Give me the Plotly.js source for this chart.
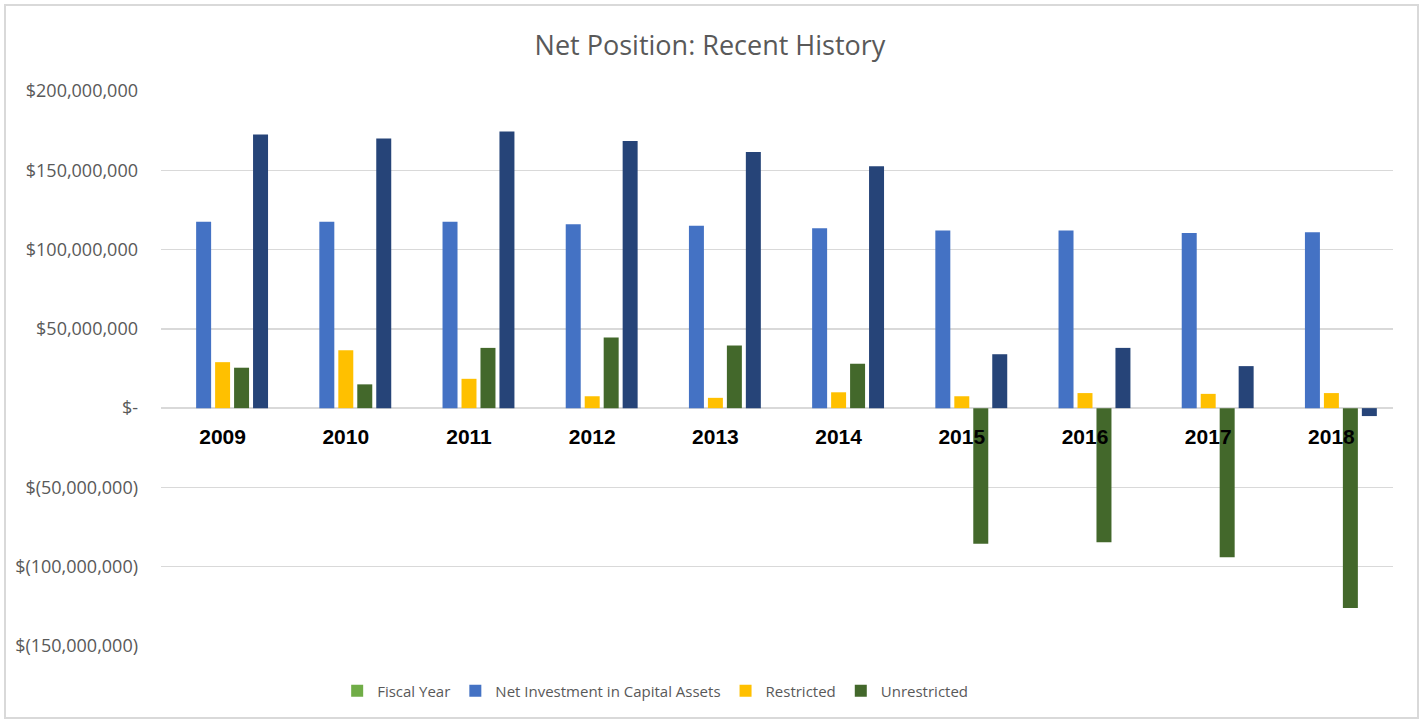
<!DOCTYPE html>
<html>
<head>
<meta charset="utf-8">
<script src="https://cdn.plot.ly/plotly-3.0.1.min.js"></script>
<style>
  html, body { margin: 0; padding: 0; background: #fff; }
  #wrap { position: relative; width: 1420px; height: 721px; }
  #chart { width: 1420px; height: 721px; }
  #frame { position: absolute; left: 4px; top: 4px; width: 1411px; height: 711px;
           border: 2px solid #d9d9d9; pointer-events: none; }
</style>
</head>
<body>
<div id="wrap">
  <div id="chart"></div>
  <div id="frame"></div>
</div>
<script>
// fiscal years (categories)
var years = ["2009", "2010", "2011", "2012", "2013", "2014", "2015", "2016", "2017", "2018"];

// series values (dollars)
var fiscalYear = [2009, 2010, 2011, 2012, 2013, 2014, 2015, 2016, 2017, 2018];
var netInvestment = [117.5e6, 117.5e6, 117.5e6, 116e6, 115e6, 113.5e6, 112e6, 112e6, 110.5e6, 111e6];
var restricted = [29e6, 36.5e6, 18.5e6, 7.5e6, 6.5e6, 10e6, 7.5e6, 9.5e6, 9e6, 9.5e6];
var unrestricted = [25.5e6, 15e6, 38e6, 44.5e6, 39.5e6, 28e6, -85.5e6, -84.5e6, -94e6, -126e6];
var total = [172.5e6, 170e6, 174.5e6, 168.5e6, 161.5e6, 152.5e6, 34e6, 38e6, 26.5e6, -5e6];

// y axis ticks
var yTickVals = [200e6, 150e6, 100e6, 50e6, 0, -50e6, -100e6, -150e6];
var yTickText = ["$200,000,000", "$150,000,000", "$100,000,000", "$50,000,000", "$-",
                 "$(50,000,000)", "$(100,000,000)", "$(150,000,000)"];

var grey = "#595959";

function bars(name, y, color, show) {
  return {
    type: "bar",
    name: name,
    x: years,
    y: y,
    marker: { color: color, line: { width: 0 } },
    showlegend: show
  };
}

var data = [
  bars("Fiscal Year", fiscalYear, "#70ad47", true),
  bars("Net Investment in Capital Assets", netInvestment, "#4472c4", true),
  bars("Restricted", restricted, "#ffc000", true),
  bars("Unrestricted", unrestricted, "#43682b", true),
  bars("Total", total, "#264478", false)
];

var layout = {
  width: 1420,
  height: 721,
  margin: { l: 161, r: 27, t: 91, b: 75 },
  paper_bgcolor: "#ffffff",
  plot_bgcolor: "#ffffff",
  barmode: "group",
  bargap: 0.23,
  bargroupgap: 0.21,
  title: {
    text: "Net Position: Recent History",
    font: { family: "Open Sans", size: 27, color: grey },
    x: 0.5,
    xanchor: "center",
    y: 0.937,
    yanchor: "middle"
  },
  xaxis: {
    type: "category",
    anchor: "free",
    position: 150 / 350,
    showgrid: false,
    showline: false,
    ticks: "",
    tickfont: { family: "Liberation Sans", size: 21, color: "#000000", weight: "bold" },
    ticklabelstandoff: 14
  },
  yaxis: {
    range: [-150e6, 200e6],
    tickvals: yTickVals,
    ticktext: yTickText,
    showgrid: true,
    gridcolor: "#d9d9d9",
    gridwidth: 1.5,
    zeroline: true,
    zerolinecolor: "#d9d9d9",
    zerolinewidth: 2,
    showline: false,
    ticks: "",
    ticklabelstandoff: 22,
    tickfont: { family: "Open Sans", size: 18, color: grey }
  },
  legend: {
    orientation: "h",
    x: 0.143,
    xanchor: "left",
    y: -0.081,
    yanchor: "middle",
    font: { family: "Open Sans", size: 15, color: grey },
    traceorder: "normal"
  },
  showlegend: true
};

Plotly.newPlot("chart", data, layout, { displayModeBar: false, staticPlot: true });
</script>
</body>
</html>
